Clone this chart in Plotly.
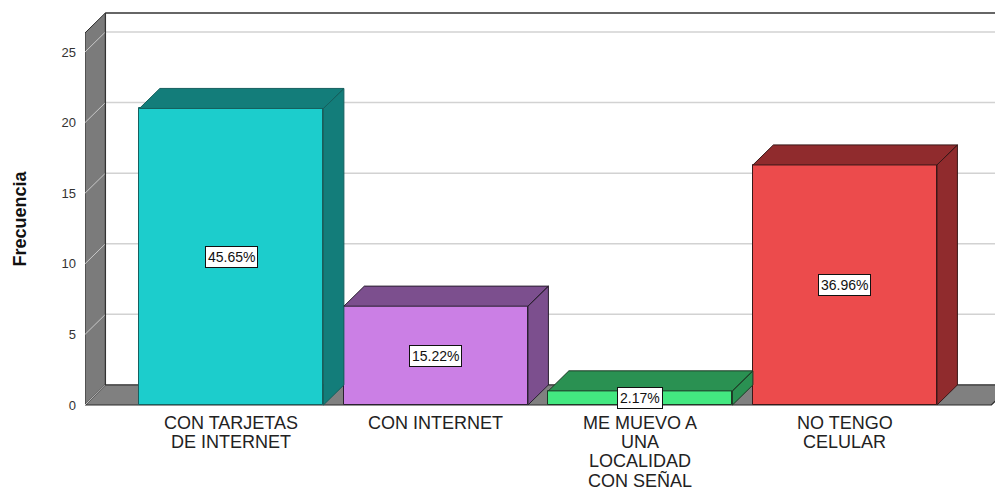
import plotly.graph_objects as go

# ---- data ----
categories = [
    ["CON TARJETAS", "DE INTERNET"],
    ["CON INTERNET"],
    ["ME MUEVO A", "UNA", "LOCALIDAD", "CON SEÑAL"],
    ["NO TENGO", "CELULAR"],
]
counts = [21, 7, 1, 17]
percent_labels = ["45.65%", "15.22%", "2.17%", "36.96%"]
front_colors = ["#1ccdcc", "#cb7fe5", "#43e880", "#ec4b4c"]
shade_colors = ["#137d7a", "#7c4f8e", "#2a9152", "#902b2d"]
edge_colors = ["#16605e", "#2a2030", "#1f3a26", "#3a1818"]
y_ticks = [0, 5, 10, 15, 20, 25]

# ---- 3D projection parameters ----
BW = 0.9          # bar width (category units)
DX = 0.1          # depth offset in x (category units)
DY = 1.42         # depth offset in y (data units)
X_LEFT = -0.716   # front-left edge of the floor / wall
X_RIGHT = 3.716   # front-right edge of the floor
X_END = 3.812     # right edge of visible area
Y_TOP = 26.35     # height of the walls

fig = go.Figure()

xs = list(range(len(counts)))

# front faces
fig.add_trace(go.Bar(
    x=xs, y=counts, width=BW,
    marker=dict(color=front_colors, line=dict(color=edge_colors, width=1)),
    hoverinfo="skip", showlegend=False,
))

# top and side faces
for i, v in enumerate(counts):
    l, r = i - BW / 2, i + BW / 2
    px = [l, l + DX, r + DX, r, l, None, r, r + DX, r + DX, r, r]
    py = [v, v + DY, v + DY, v, v, None, 0, DY, v + DY, v, 0]
    fig.add_trace(go.Scatter(
        x=px, y=py, mode="lines", fill="toself",
        fillcolor=shade_colors[i], line=dict(color=edge_colors[i], width=1),
        hoverinfo="skip", showlegend=False,
    ))

shapes = []
# left wall
shapes.append(dict(type="path", xref="x", yref="y", layer="below",
                   path=f"M {X_LEFT},0 L {X_LEFT+DX},{DY} L {X_LEFT+DX},{Y_TOP+DY} L {X_LEFT},{Y_TOP} Z",
                   fillcolor="#7b7b7b", line=dict(color="#2b2b2b", width=1)))
# floor
shapes.append(dict(type="path", xref="x", yref="y", layer="below",
                   path=f"M {X_LEFT},0 L {X_LEFT+DX},{DY} L {X_RIGHT+DX},{DY} L {X_RIGHT},0 Z",
                   fillcolor="#808080", line=dict(color="#2b2b2b", width=1.2)))
# grid lines on back wall and left wall
for t in y_ticks:
    if t > 0:
        shapes.append(dict(type="line", xref="x", yref="y", layer="below",
                           x0=X_LEFT + DX, x1=X_END + 1, y0=t + DY, y1=t + DY,
                           line=dict(color="#d2d2d2", width=1.5)))
    shapes.append(dict(type="line", xref="x", yref="y", layer="below",
                       x0=X_LEFT, x1=X_LEFT + DX, y0=t, y1=t + DY,
                       line=dict(color="#c8c8c8", width=1)))
# back wall top border and left edge
shapes.append(dict(type="line", xref="x", yref="y", layer="below",
                   x0=X_LEFT + DX, x1=X_END + 1, y0=Y_TOP + DY, y1=Y_TOP + DY,
                   line=dict(color="#333333", width=1.5)))
shapes.append(dict(type="line", xref="x", yref="y", layer="below",
                   x0=X_LEFT + DX, x1=X_LEFT + DX, y0=DY, y1=Y_TOP + DY,
                   line=dict(color="#333333", width=1.2)))

annotations = []
# percentage labels
for i, v in enumerate(counts):
    annotations.append(dict(x=i, y=v / 2, xref="x", yref="y", text=percent_labels[i],
                            showarrow=False, bgcolor="white", bordercolor="#111111",
                            borderwidth=1, borderpad=2,
                            font=dict(family="Liberation Sans, Arial", size=14, color="#111111")))
# category labels
for i, lines in enumerate(categories):
    for k, line in enumerate(lines):
        annotations.append(dict(x=i, y=0, xref="x", yref="y", text=line, showarrow=False,
                                yanchor="middle", xanchor="center", yshift=-18 - 19 * k,
                                borderpad=0,
                                font=dict(family="Liberation Sans, Arial", size=18, color="#222222")))
# y title
annotations.append(dict(x=-0.0702, y=13.2, xref="paper", yref="y", text="<b>Frecuencia</b>",
                        textangle=-90, showarrow=False, xanchor="center", yanchor="middle",
                        font=dict(family="Liberation Sans Narrow, Liberation Sans, Arial", size=18, color="#111111")))

fig.update_layout(
    width=1003, height=490,
    margin=dict(l=77, r=0, t=0, b=0),
    paper_bgcolor="white", plot_bgcolor="white",
    shapes=shapes, annotations=annotations,
    xaxis=dict(range=[X_LEFT, X_END], visible=False, fixedrange=True),
    yaxis=dict(range=[-6.586, 28.116], tickvals=y_ticks, showgrid=False, zeroline=False,
               showline=False, ticks="", ticklabelstandoff=8,
               tickfont=dict(family="Liberation Sans, Arial", size=13, color="#333333"),
               fixedrange=True),
    bargap=0,
)

fig.write_html("out.html")
